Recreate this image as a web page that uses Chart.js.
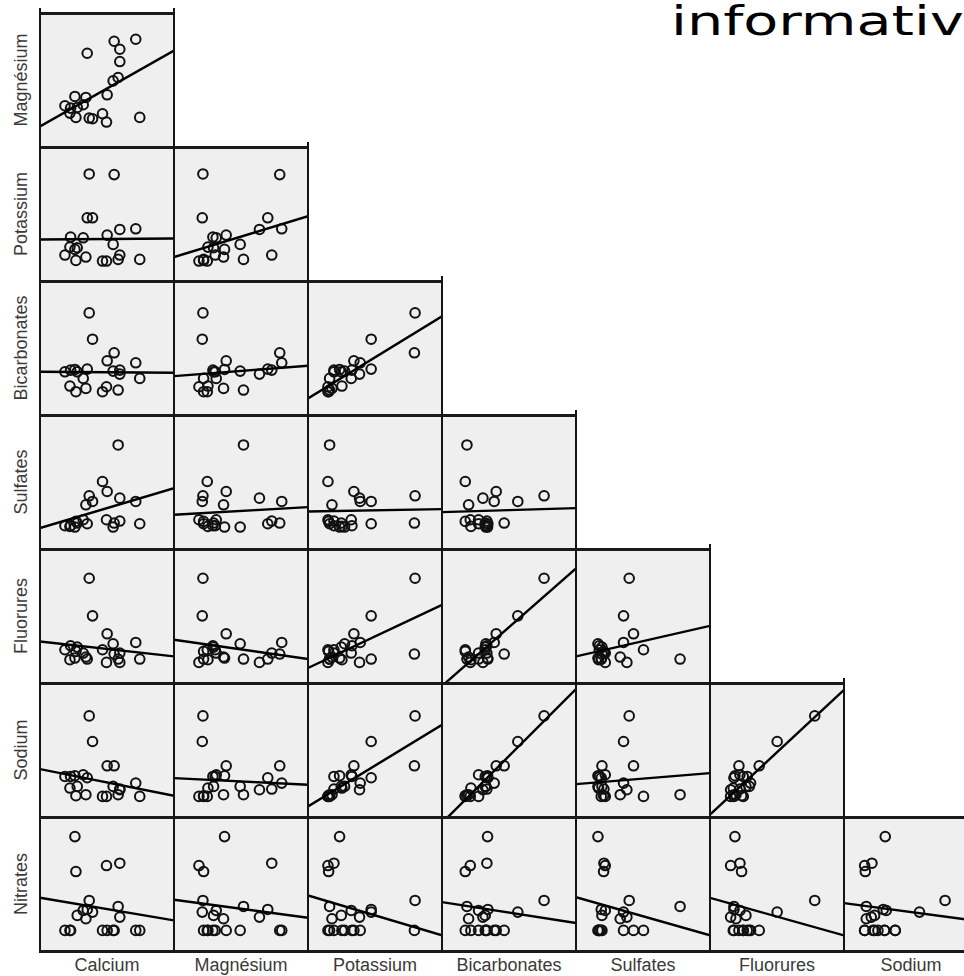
<!DOCTYPE html>
<html>
<head>
<meta charset="utf-8">
<script src="https://cdn.jsdelivr.net/npm/chart.js@4.4.1/dist/chart.umd.min.js"></script>
<style>
html,body{margin:0;padding:0;width:964px;height:976px;overflow:hidden;background:#fff;}
#wrap{position:relative;width:964px;height:976px;overflow:hidden;}
.cell{position:absolute;background:#efefef;}
.cell canvas{display:block;}
.hl{position:absolute;height:3px;background:#1a1a1a;z-index:5;}
.vl{position:absolute;width:2px;background:#151515;z-index:5;}
.xl{position:absolute;top:954px;width:134px;height:22px;line-height:22px;text-align:center;
    font-family:"Liberation Sans",Arial,sans-serif;font-size:18px;color:#3a3a3a;}
.yl{position:absolute;width:134px;height:22px;line-height:22px;text-align:center;
    font-family:"Liberation Sans",Arial,sans-serif;font-size:18px;color:#3a3a3a;transform:rotate(-90deg);}
#note{position:absolute;left:671px;top:-2px;font-family:"DejaVu Sans",sans-serif;font-size:40px;line-height:46px;
      color:#000;white-space:nowrap;transform:scaleX(1.43);transform-origin:0 0;z-index:10;}
</style>
</head>
<body>
<div id="wrap"><div id="note">informative</div></div>
<script>
// ---- data (arbitrary units on a 0-403 scale) ----
const AXIS_MAX = 403;
const varNames  = ['Calcium','Magnésium','Potassium','Bicarbonates','Sulfates','Fluorures','Sodium','Nitrates'];
const calcium   = [142,223,240,288,240,220,235,202,105,138, 75, 92,112,130, 90,108,148,158,188,200,300];
const magnesium = [282,318,294,324,257,199,209,157,152,149,124,117,119,127,102, 89, 87, 85,100, 75, 89];
const potassium = [190,320, 78,157,155,110, 65,138, 95, 72, 78,132,100,130,102, 62,322,190, 60, 60, 65];
const bicarb    = [138,187,135,157,123,132, 75,163,137, 80,130,135,130,110, 87, 70,307,228, 70, 85,110];
const sulfates  = [ 76, 78, 84,143,153, 66,313,173, 66,133, 70, 70, 78, 88, 68, 83,160,143,203, 88, 76];
const fluorures = [ 72, 87, 90,122, 62,118, 72,148, 75, 78,100,112,108, 90, 70, 95,315,202,100, 62, 72];
const sodium    = [118,154, 84,102, 82, 92, 67,154,124, 67,122,122, 92,127, 87, 64,304,227, 62, 62, 62];
const nitrates  = [125, 62,264, 62,102, 62,134, 62,344, 97, 62, 62,107,122, 62,239,152,117, 62,257, 62];

// fitted-line end values [at left edge, at right edge], per row then column
const fitMg  = [[62,290]];
const fitK   = [[125,128],[72,195]];
const fitHCO = [[130,127],[117,148],[50,297]];
const fitSO4 = [[63,183],[103,126],[113,120],[111,123]];
const fitF   = [[125,80],[130,72],[45,235],[-9,345],[80,172]];
const fitNa  = [[144,64],[117,97],[32,277],[-18,385],[99,132],[7,382]];
const fitNO3 = [[160,92],[154,100],[167,47],[147,84],[162,47],[160,47],[144,90]];

// ---- layout ----
const series = [calcium, magnesium, potassium, bicarb, sulfates, fluorures, sodium, nitrates];
const fits = [fitMg, fitK, fitHCO, fitSO4, fitF, fitNa, fitNO3];
const L0 = 40, T0 = 13, CW = 134, CH = 134, NR = 7;
const wrap = document.getElementById('wrap');
const rowTop = r => T0 + r * CH;
const colLeft = c => L0 + c * CW;

function addDiv(cls, style, text) {
  const d = document.createElement('div');
  d.className = cls;
  Object.assign(d.style, style);
  if (text) d.textContent = text;
  wrap.appendChild(d);
  return d;
}

for (let r = 0; r < NR; r++) {
  const yVar = series[r + 1];
  for (let c = 0; c <= r; c++) {
    const xVar = series[c];
    const cell = addDiv('cell', {left: colLeft(c) + 'px', top: rowTop(r) + 'px', width: CW + 'px', height: CH + 'px'});
    const cv = document.createElement('canvas');
    cv.width = CW; cv.height = CH;
    cell.appendChild(cv);
    const pts = xVar.map((x, i) => ({x: x, y: yVar[i]}));
    const f = fits[r][c];
    new Chart(cv, {
      type: 'scatter',
      data: {
        datasets: [
          {data: pts, pointRadius: 4.8, pointBorderWidth: 2, pointBorderColor: '#111',
           pointBackgroundColor: 'rgba(0,0,0,0)', showLine: false, order: 2},
          {type: 'line', data: [{x: 0, y: f[0]}, {x: AXIS_MAX, y: f[1]}], borderColor: '#000',
           borderWidth: 2.4, pointRadius: 0, fill: false, tension: 0, order: 1}
        ]
      },
      options: {
        responsive: false, animation: false, events: [],
        layout: {padding: 0, autoPadding: false},
        plugins: {legend: {display: false}, tooltip: {enabled: false}},
        scales: {
          x: {type: 'linear', min: 0, max: AXIS_MAX, display: false},
          y: {type: 'linear', min: 0, max: AXIS_MAX, display: false}
        }
      }
    });
  }
  // top border of the row
  addDiv('hl', {left: (L0 - 1) + 'px', top: (rowTop(r) - 1) + 'px', width: (CW * (r + 1) + 2) + 'px'});
  // row label
  addDiv('yl', {left: (21 - CW / 2) + 'px', top: (rowTop(r) + CH / 2 - 11) + 'px'}, varNames[r + 1]);
}
// bottom border
addDiv('hl', {left: (L0 - 1) + 'px', top: (rowTop(NR) - 1) + 'px', width: (CW * NR + 2) + 'px'});
// vertical borders
for (let c = 0; c <= NR; c++) {
  const startRow = Math.max(0, c - 1);
  const y0 = rowTop(startRow) - 5;
  addDiv('vl', {left: (colLeft(c) - 1) + 'px', top: y0 + 'px', height: (rowTop(NR) + 2 - y0) + 'px'});
}
// column labels
for (let c = 0; c < NR; c++) {
  addDiv('xl', {left: colLeft(c) + 'px'}, varNames[c]);
}
</script>
</body>
</html>
